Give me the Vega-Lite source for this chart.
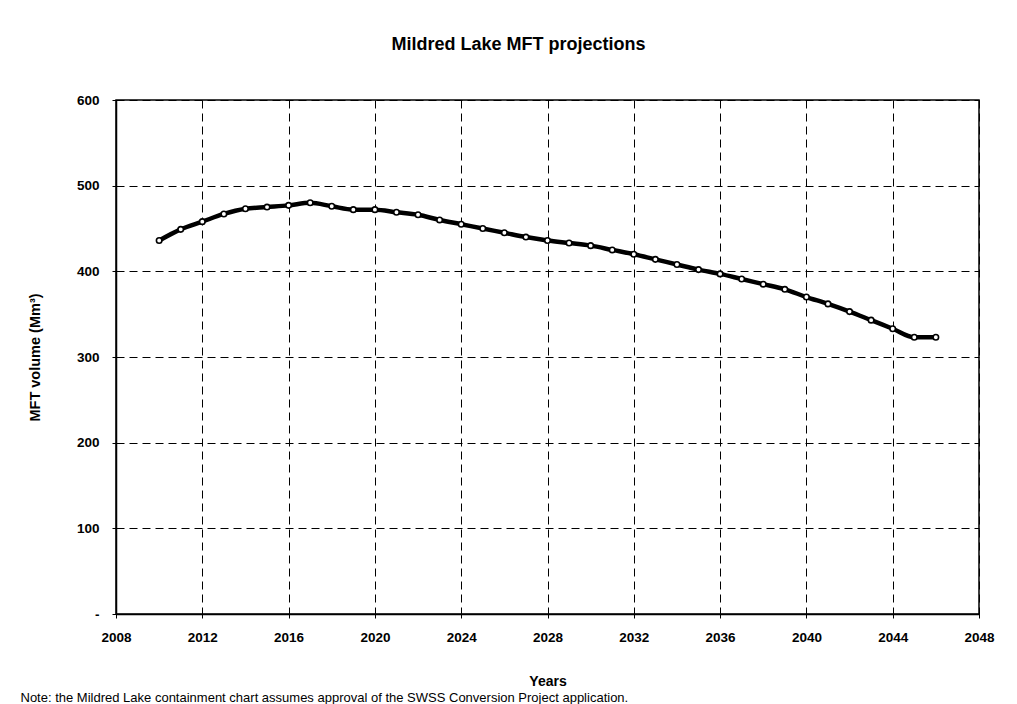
{
  "$schema": "https://vega.github.io/schema/vega-lite/v6.json",
  "width": 863,
  "height": 514,
  "autosize": {"type": "none"},
  "padding": {"left": 116, "top": 100, "right": 38, "bottom": 90},
  "background": "white",
  "title": {"text": "Mildred Lake MFT projections", "fontSize": 18, "font": "Liberation Sans", "fontWeight": "bold", "anchor": "middle", "offset": 39, "dx": -29, "color": "black"},
  "config": {"view": {"stroke": "black", "strokeWidth": 1.5}, "font": "Liberation Sans"},
  "data": {"values": [
    {"year": 2010, "volume": 436}, {"year": 2011, "volume": 449}, {"year": 2012, "volume": 458},
    {"year": 2013, "volume": 467}, {"year": 2014, "volume": 473}, {"year": 2015, "volume": 475},
    {"year": 2016, "volume": 477}, {"year": 2017, "volume": 480}, {"year": 2018, "volume": 476},
    {"year": 2019, "volume": 472}, {"year": 2020, "volume": 472}, {"year": 2021, "volume": 469},
    {"year": 2022, "volume": 466}, {"year": 2023, "volume": 460}, {"year": 2024, "volume": 455},
    {"year": 2025, "volume": 450}, {"year": 2026, "volume": 445}, {"year": 2027, "volume": 440},
    {"year": 2028, "volume": 436}, {"year": 2029, "volume": 433}, {"year": 2030, "volume": 430},
    {"year": 2031, "volume": 425}, {"year": 2032, "volume": 420}, {"year": 2033, "volume": 414},
    {"year": 2034, "volume": 408}, {"year": 2035, "volume": 402}, {"year": 2036, "volume": 397},
    {"year": 2037, "volume": 391}, {"year": 2038, "volume": 385}, {"year": 2039, "volume": 379},
    {"year": 2040, "volume": 370}, {"year": 2041, "volume": 362}, {"year": 2042, "volume": 353},
    {"year": 2043, "volume": 343}, {"year": 2044, "volume": 333}, {"year": 2045, "volume": 323},
    {"year": 2046, "volume": 323}
  ]},
  "layer": [
    {
      "mark": {"type": "line", "color": "black", "strokeWidth": 4.5, "interpolate": "monotone"},
      "encoding": {
        "x": {"field": "year", "type": "quantitative", "scale": {"domain": [2008, 2048], "nice": false, "zero": false},
          "axis": {"values": [2008, 2012, 2016, 2020, 2024, 2028, 2032, 2036, 2040, 2044, 2048], "format": "d",
            "labelFontSize": 13.5, "labelFontWeight": "bold", "labelColor": "black", "labelPadding": 12, "labelFlush": false,
            "tickColor": "black", "tickSize": 4, "domainColor": "black", "domainWidth": 1.5,
            "grid": true, "gridColor": "black", "gridDash": [8, 5], "gridWidth": 1, "gridOpacity": 1,
            "title": "Years", "titleFontSize": 14, "titleFontWeight": "bold", "titleColor": "black", "titlePadding": 31}},
        "y": {"field": "volume", "type": "quantitative", "scale": {"domain": [0, 600], "nice": false},
          "axis": {"values": [0, 100, 200, 300, 400, 500, 600], "labelExpr": "datum.value == 0 ? '-' : datum.label",
            "labelFontSize": 13.5, "labelFontWeight": "bold", "labelColor": "black", "labelPadding": 13,
            "tickColor": "black", "tickSize": 4, "domainColor": "black", "domainWidth": 1.5,
            "grid": true, "gridColor": "black", "gridDash": [8, 5], "gridWidth": 1, "gridOpacity": 1,
            "title": "MFT volume (Mm³)", "titleFontSize": 14.5, "titleFontWeight": "bold", "titleColor": "black", "titlePadding": 34}}
      }
    },
    {
      "mark": {"type": "point", "shape": "circle", "filled": true, "fill": "white", "stroke": "black", "strokeWidth": 1.6, "size": 30, "opacity": 1},
      "encoding": {
        "x": {"field": "year", "type": "quantitative", "scale": {"domain": [2008, 2048], "nice": false, "zero": false},
          "axis": {"orient": "bottom", "title": "Note: the Mildred Lake containment chart assumes approval of the SWSS Conversion Project application.",
            "labels": false, "ticks": false, "domain": false, "grid": false,
            "titleAnchor": "start", "titleAlign": "left", "titleX": -96, "titleY": 87, "titleBaseline": "alphabetic",
            "titleFontSize": 13, "titleFontWeight": "normal", "titleColor": "black"}},
        "y": {"field": "volume", "type": "quantitative"}
      }
    }
  ],
  "resolve": {"axis": {"x": "independent"}}
}
